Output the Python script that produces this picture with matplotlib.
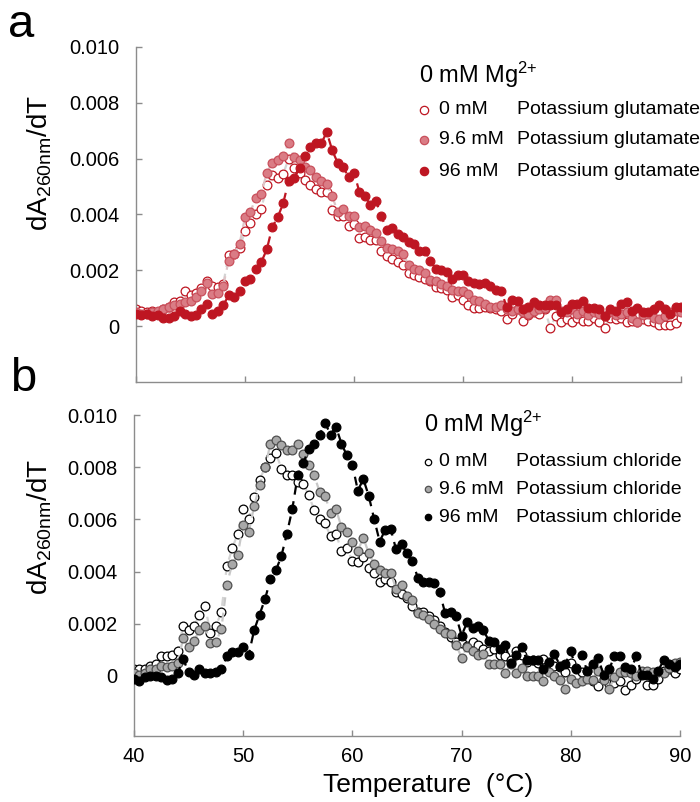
import numpy as np
import matplotlib.pyplot as plt
from matplotlib.lines import Line2D

plt.rcParams['font.family'] = ['Liberation Sans', 'DejaVu Sans']
plt.rcParams['mathtext.default'] = 'regular'

# temperature grid (deg C), one reading every 0.5 deg
temps = np.arange(40, 90.01, 0.5)

# dA260/dT values in units of 1e-3, panel a (potassium glutamate)
glu_0 = [0.6, 0.55, 0.5, 0.55, 0.45, 0.6, 0.7, 0.85, 0.9, 1.25,
         1.1, 1.2, 1.35, 1.6, 1.45, 1.4, 1.5, 2.55, 2.6, 2.8,
         3.4, 3.7, 4.0, 4.2, 5.05, 5.4, 5.3, 5.45, 6.0, 5.65,
         5.5, 5.25, 5.05, 4.9, 4.8, 4.8, 4.15, 3.95, 3.95, 3.6,
         3.65, 3.15, 3.2, 3.1, 3.1, 2.7, 2.5, 2.4, 2.3, 2.2,
         1.9, 1.85, 1.75, 1.68, 1.6, 1.4, 1.35, 1.3, 1.05, 1.1,
         0.95, 0.75, 0.65, 0.65, 0.7, 0.65, 0.6, 0.55, 0.25, 0.45,
         0.6, 0.2, 0.4, 0.5, 0.45, 0.6, -0.05, 0.35, 0.15, 0.25,
         0.15, 0.3, 0.2, 0.2, 0.3, 0.15, -0.05, 0.3, 0.25, 0.3,
         0.15, 0.2, 0.15, 0.25, 0.2, 0.15, 0.05, 0.05, 0.05, 0.1, 0.3]
glu_9_6 = [0.5, 0.45, 0.45, 0.5, 0.55, 0.6, 0.7, 0.75, 0.8, 0.85,
           0.9, 1.05, 1.25, 1.55, 1.15, 1.2, 1.45, 2.35, 2.6, 2.95,
           3.9, 4.1, 4.6, 4.75, 5.5, 5.85, 5.95, 6.1, 6.55, 6.05,
           5.95, 5.7, 5.6, 5.35, 5.2, 5.1, 4.65, 4.1, 4.2, 3.95,
           3.95, 3.55, 3.6, 3.45, 3.35, 3.05, 2.8, 2.75, 2.7, 2.6,
           2.2, 2.05, 2.0, 1.9, 1.65, 1.6, 1.5, 1.45, 1.3, 1.25,
           1.25, 1.15, 0.95, 0.9, 0.8, 0.7, 0.7, 0.75, 0.6, 0.55,
           0.6, 0.5, 0.45, 0.55, 0.6, 0.65, 0.95, 0.95, 0.55, 0.5,
           0.6, 0.45, 0.55, 0.4, 0.5, 0.45, 0.35, 0.5, 0.4, 0.45,
           0.5, 0.3, 0.15, 0.4, 0.45, 0.3, 0.25, 0.35, 0.5, 0.55, 0.5]
glu_96 = [0.45, 0.4, 0.45, 0.35, 0.4, 0.3, 0.3, 0.35, 0.55, 0.45,
          0.35, 0.4, 0.6, 0.8, 0.45, 0.55, 0.75, 1.1, 1.05, 1.25,
          1.6, 1.7, 2.05, 2.3, 2.75, 3.55, 3.9, 4.4, 5.2, 5.3,
          5.65, 6.1, 6.4, 6.55, 6.55, 6.95, 6.3, 5.85, 5.7, 5.35,
          5.5, 4.8, 4.65, 4.35, 4.5, 3.95, 3.45, 3.5, 3.3, 3.2,
          3.0, 2.95, 2.7, 2.7, 2.35, 2.05, 2.0, 1.95, 1.7, 1.85,
          1.85, 1.6, 1.55, 1.5, 1.55, 1.45, 1.3, 1.25, 0.7, 0.95,
          0.9, 0.6, 0.7, 0.85, 0.75, 0.75, 0.75, 0.75, 0.5, 0.6,
          0.8, 0.8, 0.9, 0.65, 0.65, 0.6, 0.35, 0.6, 0.55, 0.8,
          0.85, 0.55, 0.65, 0.5, 0.5, 0.6, 0.75, 0.6, 0.45, 0.7, 0.7]

# panel b (potassium chloride)
kcl_0 = [0.25, 0.25, 0.25, 0.4, 0.45, 0.75, 0.75, 0.8, 0.95, 1.9,
         1.75, 1.9, 2.35, 2.7, 1.65, 1.9, 2.45, 4.2, 4.9, 5.45,
         6.4, 6.0, 6.85, 7.5, 8.0, 8.35, 8.55, 7.95, 7.7, 7.7,
         7.45, 7.35, 6.95, 6.35, 6.0, 5.85, 5.35, 5.45, 4.8, 4.9,
         4.4, 4.35, 4.55, 4.15, 3.95, 3.6, 3.7, 3.6, 3.2, 3.15,
         3.0, 2.7, 2.45, 2.45, 2.3, 2.15, 1.9, 1.7, 1.5, 1.3,
         1.25, 1.15, 1.3, 1.2, 1.05, 0.95, 1.05, 0.8, 0.75, 0.6,
         0.95, 0.8, 0.55, 0.6, 0.5, 0.65, 0.5, 0.4, 0.35, 0.15,
         0.5, 0.3, 0.15, 0.2, -0.2, -0.4, -0.1, -0.3, -0.25, -0.2,
         -0.55, -0.35, -0.1, 0.15, -0.35, -0.35, -0.1, 0.2, 0.25, 0.1, 0.25]
kcl_9_6 = [0.1, 0.05, 0.1, 0.25, 0.25, 0.4, 0.35, 0.4, 0.5, 1.45,
           1.1, 1.35, 1.75, 1.9, 1.25, 1.3, 1.8, 3.5, 4.3, 4.65,
           5.8, 5.5, 6.5, 7.3, 8.0, 8.9, 9.05, 8.85, 8.65, 8.65,
           8.9, 8.5, 8.1, 7.7, 7.05, 6.9, 6.25, 6.4, 5.7, 5.5,
           5.15, 4.8, 5.3, 4.7, 4.3, 4.05, 3.95, 3.95, 3.35, 3.5,
           3.05, 2.9, 2.4, 2.35, 2.2, 2.0, 1.8, 1.65, 1.6, 1.2,
           0.7, 1.1, 0.95, 0.8, 0.85, 0.45, 0.45, 0.45, 0.1, 0.45,
           0.1, 0.3, 0.0, 0.0, 0.0, -0.2, 0.15, 0.0, -0.15, -0.5,
           -0.1, -0.25, -0.2, -0.1, -0.15, 0.2, -0.15, -0.5, -0.05, 0.15,
           0.15, 0.1, 0.0, 0.2, 0.2, 0.15, 0.15, 0.1, 0.3, 0.5, 0.55]
kcl_96 = [-0.1, -0.2, -0.05, 0.0, 0.0, -0.05, -0.15, -0.1, 0.1, 0.65,
          0.15, 0.05, 0.25, 0.1, 0.1, 0.15, 0.25, 0.75, 0.9, 0.9,
          1.1, 0.8, 1.75, 2.35, 2.95, 3.7, 4.05, 4.6, 5.45, 6.4,
          7.7, 8.15, 8.7, 8.9, 9.25, 9.7, 9.25, 9.55, 8.9, 8.45,
          8.1, 7.1, 7.55, 6.9, 6.0, 5.15, 5.6, 5.65, 4.85, 5.05,
          4.7, 4.4, 3.75, 3.6, 3.6, 3.55, 3.2, 2.4, 2.45, 2.3,
          1.55, 2.05, 1.85, 1.9, 1.75, 1.35, 1.3, 1.05, 1.2, 0.5,
          0.8, 1.1, 0.6, 0.6, 0.6, 0.25, 0.55, 0.85, 0.4, 0.45,
          0.95, 0.25, 0.8, 0.2, 0.45, 0.7, 0.05, 0.25, 0.75, 0.75,
          0.35, 0.25, 0.75, 0.05, 0.05, -0.1, 0.2, 0.6, 0.45, 0.35, 0.45]

amounts = ['0 mM', '9.6 mM', '96 mM']
yticks = [0, 0.002, 0.004, 0.006, 0.008, 0.010]
ytick_labels = ['0', '0.002', '0.004', '0.006', '0.008', '0.010']
xticks = [40, 50, 60, 70, 80, 90]

RED = '#BE1622'
# (face, edge, line colour) for each concentration
styles_a = [('white', RED, '#D4D4D4'),
            ('#DA7C85', '#C9505C', '#DDC4C7'),
            (RED, RED, RED)]
styles_b = [('white', 'black', '#D4D4D4'),
            ('#A8A8A8', '#505050', '#C8C8C8'),
            ('black', 'black', 'black')]

fig = plt.figure(figsize=(7.0, 8.02), dpi=100)
ax_a = fig.add_axes([0.1943, 0.5237, 0.7786, 0.4177])
ax_b = fig.add_axes([0.1914, 0.0823, 0.7800, 0.4002])


def draw_panel(ax, series, styles, ymin):
    for i, (vals, (face, edge, lcol)) in enumerate(zip(series, styles)):
        y = np.array(vals) * 1e-3
        ax.plot(temps, y, ls=(0, (4, 3)), color=lcol, lw=1.6, zorder=1 + 2 * i)
        ax.plot(temps, y, ls='none', marker='o', ms=6.3, mfc=face, mec=edge,
                mew=0.9, zorder=2 + 2 * i)
    ax.set_xlim(40, 90)
    ax.set_ylim(ymin, 0.010)
    ax.set_yticks(yticks)
    ax.set_yticklabels(ytick_labels)
    ax.set_xticks(xticks)
    for side in ['top', 'right']:
        ax.spines[side].set_visible(False)
    for side in ['left', 'bottom']:
        ax.spines[side].set_color('#8C8C8C')
        ax.spines[side].set_linewidth(1.0)
    ax.tick_params(direction='in', length=4, width=1, color='#8C8C8C',
                   labelsize=14.5)
    ax.tick_params(axis='y', pad=12)
    ax.tick_params(axis='x', pad=8)


draw_panel(ax_a, [glu_0, glu_9_6, glu_96], styles_a, -0.002)
draw_panel(ax_b, [kcl_0, kcl_9_6, kcl_96], styles_b, -0.0023)
ax_a.set_xticklabels([])


def legend_block(title_xy, rows_y, marker_x, amount_x, name_x, styles, salt, msize):
    W, H = 700.0, 802.0
    fig.text(title_xy[0] / W, 1 - title_xy[1] / H, r'0 mM Mg$^{2{+}}$',
             fontsize=17, va='center', ha='left')
    for amt, (face, edge, _), yy in zip(amounts, styles, rows_y):
        fig.add_artist(Line2D([marker_x / W], [1 - yy / H], ls='none', marker='o',
                              ms=msize, mfc=face, mec=edge, mew=0.9))
        fig.text(amount_x / W, 1 - yy / H, amt, fontsize=14, va='center', ha='left')
        fig.text(name_x / W, 1 - yy / H, salt, fontsize=14, va='center', ha='left')


legend_block((419, 75), [110, 140, 171], 424, 439, 517, styles_a,
             'Potassium glutamate', 6.0)
legend_block((424, 424), [462, 489, 517], 428, 439, 516, styles_b,
             'Potassium chloride', 4.6)

# axis labels and panel letters
ylab = r'dA$_{260nm}$/dT'
fig.text(40 / 700, 1 - 163 / 802, ylab, fontsize=20, rotation=90,
         ha='center', va='center')
fig.text(40 / 700, 1 - 527 / 802, ylab, fontsize=20, rotation=90,
         ha='center', va='center')
fig.text(428 / 700, 1 - 785 / 802, 'Temperature  (\u00b0C)', fontsize=19,
         ha='center', va='center')
fig.text(8 / 700, 1 - 37 / 802, 'a', fontsize=34, ha='left', va='baseline')
fig.text(10 / 700, 1 - 391 / 802, 'b', fontsize=34, ha='left', va='baseline')

fig.savefig('out.png', dpi=100)
